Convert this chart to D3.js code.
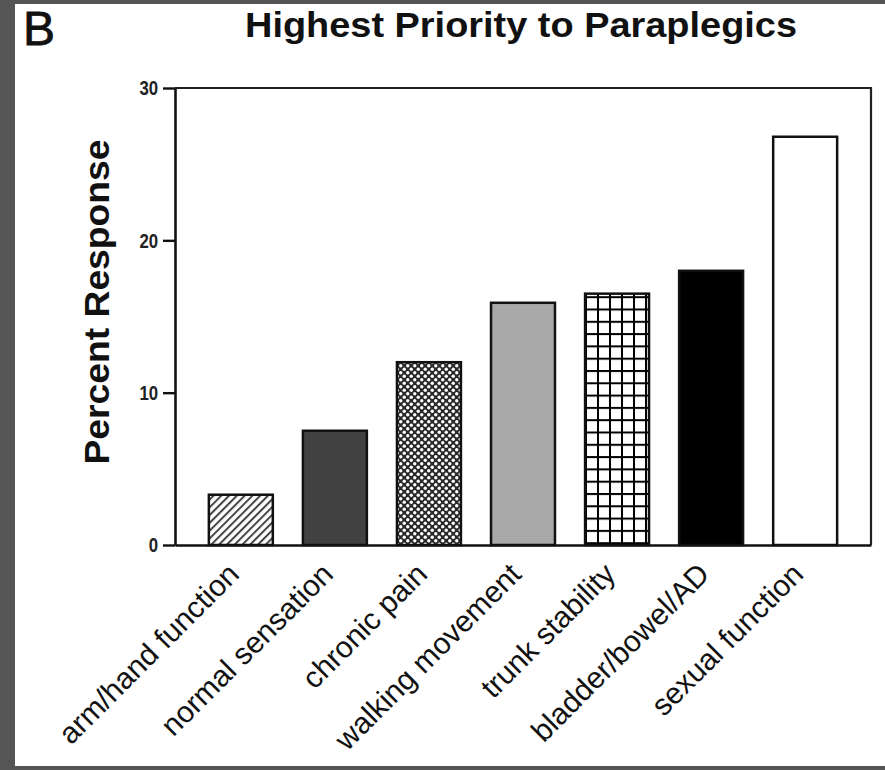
<!DOCTYPE html>
<html>
<head>
<meta charset="utf-8">
<script src="https://cdn.jsdelivr.net/npm/d3@7"></script>
<style>
  html, body { margin: 0; padding: 0; background: #555555; }
  svg { display: block; }
</style>
</head>
<body>
<script>
// ---- Data ----
const categories = ["arm/hand function", "normal sensation", "chronic pain", "walking movement", "trunk stability", "bladder/bowel/AD", "sexual function"];
const values = [3.3, 7.5, 12.0, 15.9, 16.5, 18.0, 26.8];
const yTicks = [0, 10, 20, 30];
const titleText = "Highest Priority to Paraplegics";
const panelLabel = "B";
const yLabel = "Percent Response";

// ---- Styles ----
const fills = ["url(#hatch)", "#414141", "url(#dots)", "#a9a9a9", "url(#grid)", "#000000", "#ffffff"];

const W = 885, H = 770;
const svg = d3.select("body").append("svg").attr("width", W).attr("height", H);

// background: gray frame, white panel
svg.append("rect").attr("width", W).attr("height", H).attr("fill", "#555555");
svg.append("rect").attr("x", 15).attr("y", 4).attr("width", W - 15).attr("height", 762).attr("fill", "#ffffff");

const defs = svg.append("defs");
const hatch = defs.append("pattern").attr("id", "hatch").attr("patternUnits", "userSpaceOnUse")
  .attr("width", 5.5).attr("height", 5.5).attr("patternTransform", "rotate(45)");
hatch.append("rect").attr("width", 5.5).attr("height", 5.5).attr("fill", "#fff");
hatch.append("line").attr("x1", 1).attr("y1", 0).attr("x2", 1).attr("y2", 5.5).attr("stroke", "#444").attr("stroke-width", 2);

const dots = defs.append("pattern").attr("id", "dots").attr("patternUnits", "userSpaceOnUse")
  .attr("width", 7).attr("height", 7);
dots.append("rect").attr("width", 7).attr("height", 7).attr("fill", "#2a2a2a");
dots.append("circle").attr("cx", 1.75).attr("cy", 1.75).attr("r", 1.7).attr("fill", "#fff");
dots.append("circle").attr("cx", 5.25).attr("cy", 5.25).attr("r", 1.7).attr("fill", "#fff");

const grid = defs.append("pattern").attr("id", "grid").attr("patternUnits", "userSpaceOnUse")
  .attr("x", 585).attr("y", 1).attr("width", 12).attr("height", 12.3);
grid.append("rect").attr("width", 12).attr("height", 12.3).attr("fill", "#fff");
grid.append("line").attr("x1", 1).attr("y1", 0).attr("x2", 1).attr("y2", 12.3).attr("stroke", "#000").attr("stroke-width", 2);
grid.append("line").attr("x1", 0).attr("y1", 1).attr("x2", 12).attr("y2", 1).attr("stroke", "#000").attr("stroke-width", 2);

// ---- Scales ----
const mLeft = 175, mRight = 871, mTop = 88, mBottom = 545;
const y = d3.scaleLinear().domain([0, 30]).range([mBottom, mTop]);
const x = d3.scaleBand().domain(categories).range([mLeft, mRight]).paddingInner(0.32).paddingOuter(0.36);

// ---- Bars ----
svg.append("g").selectAll("rect").data(categories).join("rect")
  .attr("x", d => x(d))
  .attr("y", (d, i) => y(values[i]))
  .attr("width", x.bandwidth())
  .attr("height", (d, i) => y(0) - y(values[i]))
  .attr("fill", (d, i) => fills[i])
  .attr("stroke", "#111")
  .attr("stroke-width", 2.5);

// ---- Frame (top & right) ----
svg.append("path")
  .attr("d", `M${mLeft},${mTop}H${mRight}V${mBottom}`)
  .attr("fill", "none").attr("stroke", "#222").attr("stroke-width", 2.2);

// ---- Y axis ----
const yAxis = svg.append("g").attr("transform", `translate(${mLeft},0)`)
  .call(d3.axisLeft(y).tickValues(yTicks).tickSize(12).tickSizeOuter(0).tickPadding(5));
yAxis.select(".domain").attr("stroke", "#111").attr("stroke-width", 2.6);
yAxis.selectAll(".tick line").attr("stroke", "#111").attr("stroke-width", 2.4);
yAxis.selectAll(".tick text")
  .attr("font-family", "'Liberation Sans', Arial, sans-serif")
  .attr("font-size", 21).attr("font-weight", "bold").attr("fill", "#222")
  .attr("transform", "scale(0.8,1)").attr("x", -21);

// ---- X axis ----
const xAxis = svg.append("g").attr("transform", `translate(0,${mBottom})`)
  .call(d3.axisBottom(x).tickSize(0).tickSizeOuter(0));
xAxis.select(".domain").attr("stroke", "#111").attr("stroke-width", 2.6);
xAxis.selectAll(".tick text")
  .attr("font-family", "'Liberation Sans', Arial, sans-serif")
  .attr("font-size", 30).attr("fill", "#111")
  .attr("text-anchor", "end")
  .attr("x", 0).attr("y", 0).attr("dy", 0)
  .attr("transform", "translate(0,31) rotate(-45)");

// ---- Titles ----
svg.append("text").attr("x", 521).attr("y", 37)
  .attr("text-anchor", "middle")
  .attr("font-family", "'Liberation Sans', Arial, sans-serif")
  .attr("font-weight", "bold").attr("font-size", 35)
  .attr("textLength", 552).attr("lengthAdjust", "spacingAndGlyphs")
  .attr("fill", "#111").text(titleText);

svg.append("text").attr("x", 23).attr("y", 45)
  .attr("font-family", "'Liberation Sans', Arial, sans-serif")
  .attr("font-size", 48).attr("fill", "#111")
  .attr("stroke", "#111").attr("stroke-width", 0.8).text(panelLabel);

svg.append("text")
  .attr("transform", "translate(109,302) rotate(-90)")
  .attr("text-anchor", "middle")
  .attr("font-family", "'Liberation Sans', Arial, sans-serif")
  .attr("font-weight", "bold").attr("font-size", 35)
  .attr("textLength", 325).attr("lengthAdjust", "spacingAndGlyphs")
  .attr("fill", "#111").text(yLabel);
</script>
</body>
</html>
